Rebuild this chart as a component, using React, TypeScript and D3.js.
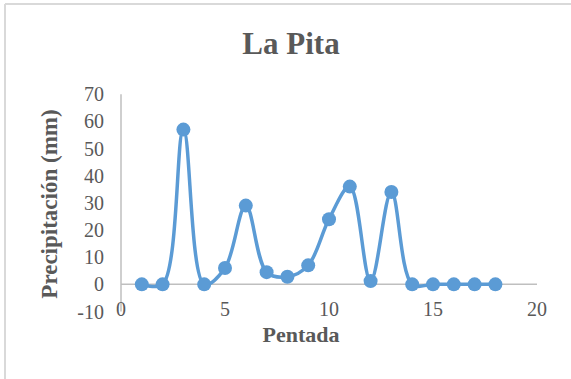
import React from "react";
import * as d3 from "d3";

const pentadas = [1, 2, 3, 4, 5, 6, 7, 8, 9, 10, 11, 12, 13, 14, 15, 16, 17, 18];
const precip = [0, 0, 57, 0, 6, 29, 4.5, 2.8, 7, 24, 36, 1.2, 34, 0, 0, 0, 0, 0];
const xTicks = [0, 5, 10, 15, 20];
const yTicks = [-10, 0, 10, 20, 30, 40, 50, 60, 70];

const W = 571;
const H = 379;
const font = "'Liberation Serif', 'Times New Roman', serif";
const textColor = "#595959";

export default function App() {
  const x = d3.scaleLinear().domain([0, 20]).range([121, 537]);
  const y = d3.scaleLinear().domain([-10, 70]).range([311.5, 94.3]);
  const pts = pentadas.map((p, i) => [p, precip[i]] as [number, number]);
  const line = d3
    .line<[number, number]>()
    .x((d) => x(d[0]))
    .y((d) => y(d[1]))
    .curve(d3.curveCatmullRom.alpha(0.5));

  return (
    <svg
      width={W}
      height={H}
      style={{ position: "fixed", left: 0, top: 0, background: "#fff" }}
    >
      <rect x={0} y={0} width={W} height={H} fill="#fff" />
      <line x1={5} y1={4} x2={W} y2={4} stroke="#d9d9d9" strokeWidth={2} />
      <line x1={5} y1={4} x2={5} y2={H} stroke="#d9d9d9" strokeWidth={2} />
      <text
        x={291}
        y={54}
        textAnchor="middle"
        fontFamily={font}
        fontWeight="bold"
        fontSize={31}
        fill={textColor}
      >
        La Pita
      </text>
      <line x1={x(0)} y1={y(70)} x2={x(0)} y2={y(-10)} stroke="#bfbfbf" strokeWidth={1.5} />
      <line x1={x(0)} y1={y(0)} x2={x(20)} y2={y(0)} stroke="#bfbfbf" strokeWidth={1.5} />
      {yTicks.map((t) => (
        <text
          key={"y" + t}
          x={104}
          y={y(t) + 7}
          textAnchor="end"
          fontFamily={font}
          fontSize={20}
          fill={textColor}
        >
          {t}
        </text>
      ))}
      {xTicks.map((t) => (
        <text
          key={"x" + t}
          x={x(t)}
          y={316}
          textAnchor="middle"
          fontFamily={font}
          fontSize={20}
          fill={textColor}
        >
          {t}
        </text>
      ))}
      <text
        x={301}
        y={342}
        textAnchor="middle"
        fontFamily={font}
        fontWeight="bold"
        fontSize={22}
        fill={textColor}
      >
        Pentada
      </text>
      <text
        transform={`translate(57,204) rotate(-90)`}
        textAnchor="middle"
        fontFamily={font}
        fontWeight="bold"
        fontSize={23}
        fill={textColor}
      >
        Precipitación (mm)
      </text>
      <path d={line(pts) || ""} fill="none" stroke="#5B9BD5" strokeWidth={3.5} strokeLinejoin="round" />
      {pts.map((d, i) => (
        <circle key={i} cx={x(d[0])} cy={y(d[1])} r={7} fill="#5B9BD5" />
      ))}
    </svg>
  );
}
